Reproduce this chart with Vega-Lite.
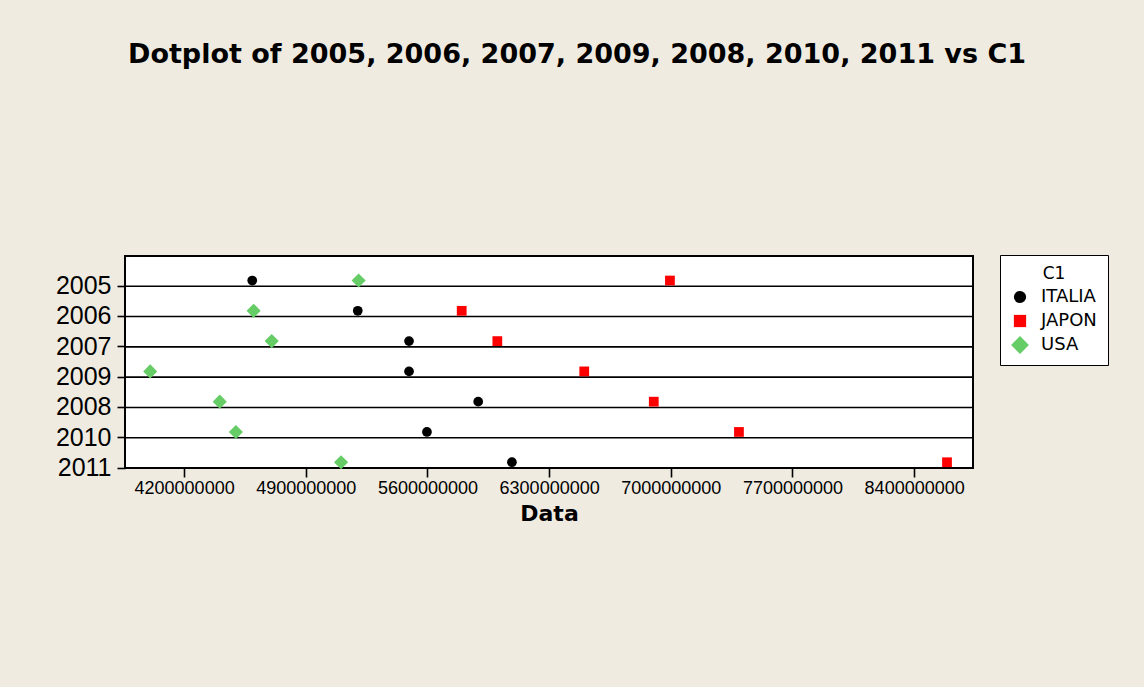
{
  "$schema": "https://vega.github.io/schema/vega-lite/v6.json",
  "width": 848,
  "height": 212,
  "autosize": {"type": "none"},
  "padding": {"left": 125, "top": 256, "right": 171, "bottom": 219},
  "background": "#EFEBE1",
  "title": {
    "text": "Dotplot of 2005, 2006, 2007, 2009, 2008, 2010, 2011 vs C1",
    "font": "DejaVu Sans",
    "fontSize": 27,
    "fontWeight": "bold",
    "color": "black",
    "anchor": "middle",
    "frame": "group",
    "dx": 28,
    "offset": 186
  },
  "config": {
    "view": {"fill": "white", "stroke": "black", "strokeWidth": 2}
  },
  "layer": [
    {
      "data": {"values": [
        {"year": "2005"}, {"year": "2006"}, {"year": "2007"}, {"year": "2009"},
        {"year": "2008"}, {"year": "2010"}, {"year": "2011"}
      ]},
      "mark": {"type": "rule", "color": "black", "strokeWidth": 1.6},
      "encoding": {
        "y": {
          "field": "year",
          "type": "nominal",
          "bandPosition": 1,
          "scale": {"domain": ["2005", "2006", "2007", "2009", "2008", "2010", "2011"], "paddingInner": 0, "paddingOuter": 0},
          "axis": {
            "title": null,
            "bandPosition": 1,
            "domain": false,
            "grid": false,
            "labelFont": "Liberation Sans",
            "labelFontSize": 25,
            "labelColor": "black",
            "labelBaseline": "middle",
            "labelOffset": 15,
            "labelPadding": 6,
            "tickSize": 8,
            "tickColor": "black",
            "tickWidth": 1.6
          }
        }
      }
    },
    {
      "data": {"values": [
        {"year": "2005", "country": "ITALIA", "value": 4592000000},
        {"year": "2005", "country": "JAPON", "value": 6995000000},
        {"year": "2005", "country": "USA", "value": 5204000000},
        {"year": "2006", "country": "ITALIA", "value": 5199000000},
        {"year": "2006", "country": "JAPON", "value": 5797000000},
        {"year": "2006", "country": "USA", "value": 4600000000},
        {"year": "2007", "country": "ITALIA", "value": 5494000000},
        {"year": "2007", "country": "JAPON", "value": 6002000000},
        {"year": "2007", "country": "USA", "value": 4704000000},
        {"year": "2009", "country": "ITALIA", "value": 5494000000},
        {"year": "2009", "country": "JAPON", "value": 6502000000},
        {"year": "2009", "country": "USA", "value": 4005000000},
        {"year": "2008", "country": "ITALIA", "value": 5892000000},
        {"year": "2008", "country": "JAPON", "value": 6902000000},
        {"year": "2008", "country": "USA", "value": 4405000000},
        {"year": "2010", "country": "ITALIA", "value": 5597000000},
        {"year": "2010", "country": "JAPON", "value": 7392000000},
        {"year": "2010", "country": "USA", "value": 4498000000},
        {"year": "2011", "country": "ITALIA", "value": 6086000000},
        {"year": "2011", "country": "JAPON", "value": 8589000000},
        {"year": "2011", "country": "USA", "value": 5103000000}
      ]},
      "mark": {"type": "point", "filled": true, "opacity": 1, "size": 95},
      "encoding": {
        "x": {
          "field": "value",
          "type": "quantitative",
          "scale": {"domain": [3860000000, 8738500000], "nice": false, "zero": false},
          "axis": {
            "title": "Data",
            "titleFont": "DejaVu Sans",
            "titleFontSize": 22,
            "titleFontWeight": "bold",
            "titleColor": "black",
            "titlePadding": 6,
            "values": [4200000000, 4900000000, 5600000000, 6300000000, 7000000000, 7700000000, 8400000000],
            "format": "d",
            "labelFont": "Liberation Sans",
            "labelFontSize": 18,
            "labelColor": "black",
            "labelPadding": 2,
            "labelFlush": false,
            "labelOverlap": false,
            "tickSize": 9,
            "tickColor": "black",
            "tickWidth": 1.6,
            "domain": false,
            "grid": false
          }
        },
        "y": {"field": "year", "type": "nominal", "bandPosition": 0.81},
        "color": {
          "field": "country",
          "type": "nominal",
          "title": "C1",
          "scale": {"domain": ["ITALIA", "JAPON", "USA"], "range": ["black", "#FF0000", "#66CC66"]},
          "legend": {
            "orient": "none",
            "legendX": 875,
            "legendY": -1,
            "padding": 11,
            "fillColor": "white",
            "strokeColor": "black",
            "titleFont": "DejaVu Sans",
            "titleFontSize": 17,
            "titleFontWeight": "normal",
            "titleColor": "black",
            "titleAnchor": "middle",
            "titleAlign": "center",
            "titlePadding": 5,
            "labelFont": "DejaVu Sans",
            "labelFontSize": 18,
            "labelColor": "black",
            "labelOffset": 12,
            "rowPadding": 6,
            "symbolSize": 150,
            "symbolStrokeWidth": 0
          }
        },
        "shape": {
          "field": "country",
          "type": "nominal",
          "title": "C1",
          "scale": {"domain": ["ITALIA", "JAPON", "USA"], "range": ["circle", "square", "M-1.45,0L0,-1.45L1.45,0L0,1.45Z"]}
        }
      }
    }
  ]
}
